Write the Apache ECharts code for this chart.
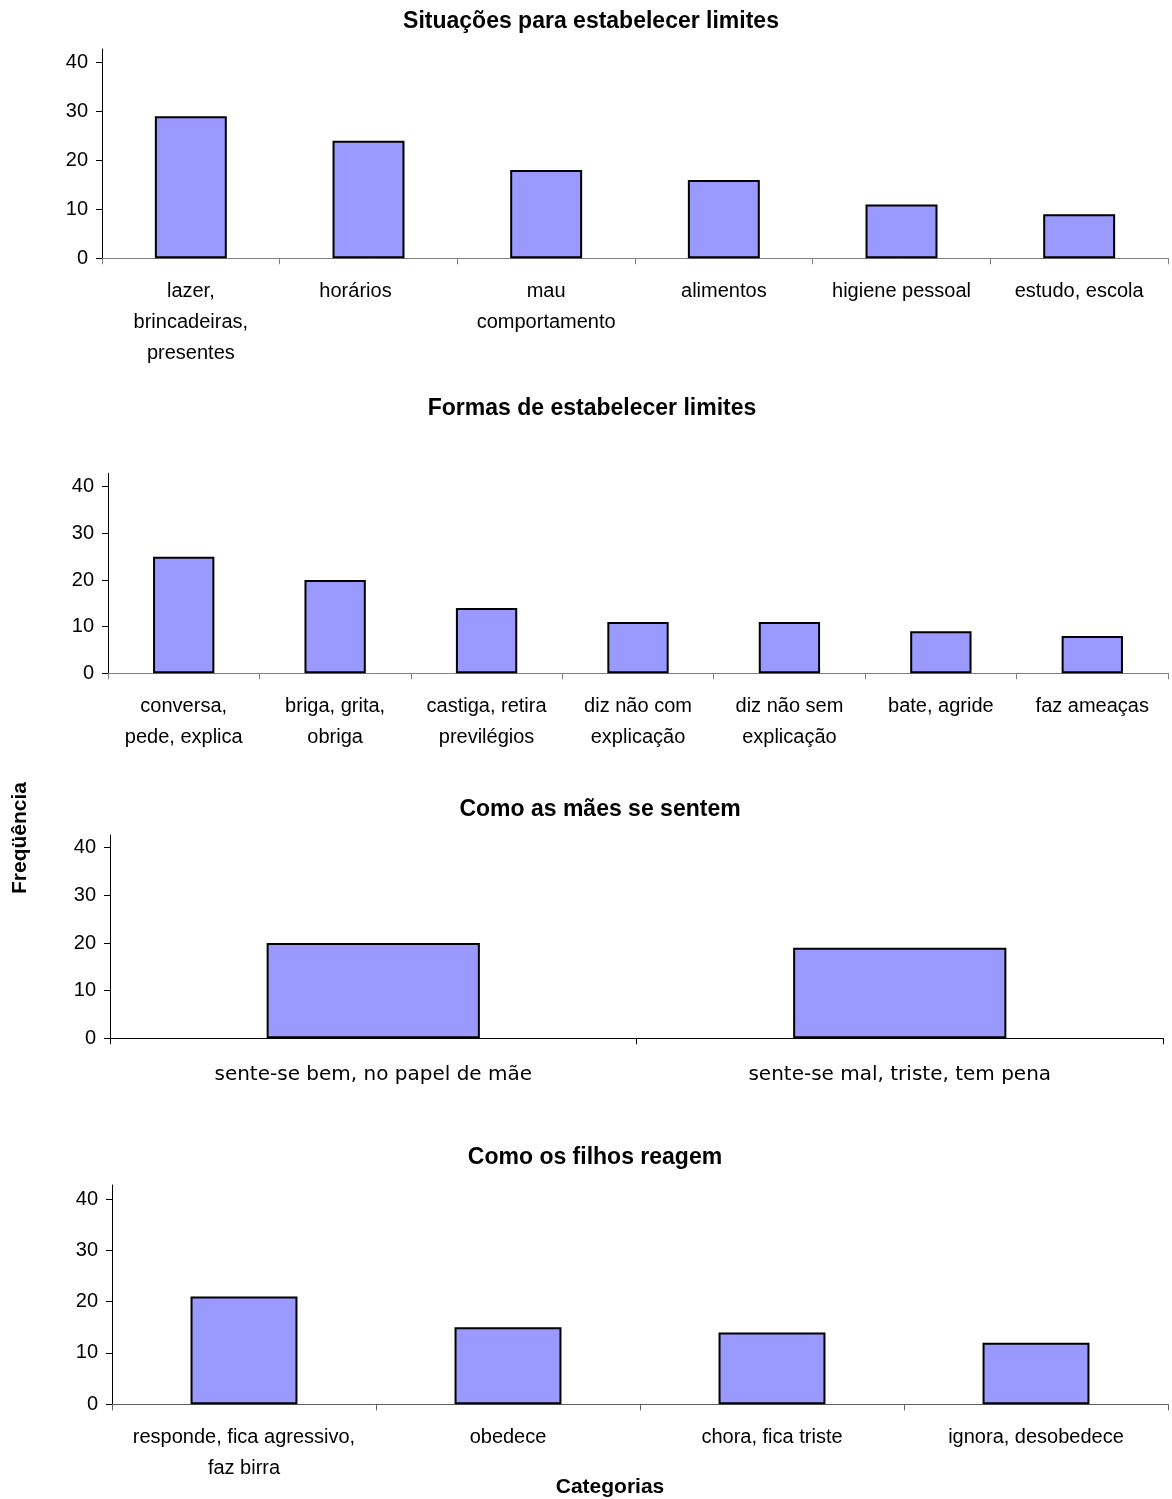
<!DOCTYPE html>
<html>
<head>
<meta charset="utf-8">
<script src="https://cdn.jsdelivr.net/npm/echarts@6/dist/echarts.min.js"></script>
<style>
html,body{margin:0;padding:0;background:#fff;}
#c{width:1172px;height:1499px;}
</style>
</head>
<body>
<div id="c"></div>
<script>
// ---- data ----
const titles = [
  'Situações para estabelecer limites',
  'Formas de estabelecer limites',
  'Como as mães se sentem',
  'Como os filhos reagem'
];
const cats1 = ['lazer,\nbrincadeiras,\npresentes', 'horários', 'mau\ncomportamento', 'alimentos', 'higiene pessoal', 'estudo, escola'];
const vals1 = [29, 24, 18, 16, 11, 9];
const cats2 = ['conversa,\npede, explica', 'briga, grita,\nobriga', 'castiga, retira\nprevilégios', 'diz não com\nexplicação', 'diz não sem\nexplicação', 'bate, agride', 'faz ameaças'];
const vals2 = [25, 20, 14, 11, 11, 9, 8];
const cats3 = ['sente-se bem, no papel de mãe', 'sente-se mal, triste, tem pena'];
const vals3 = [20, 19];
const cats4 = ['responde, fica agressivo,\nfaz birra', 'obedece', 'chora, fica triste', 'ignora, desobedece'];
const vals4 = [21, 15, 14, 12];
const yTicks = [0, 10, 20, 30, 40];
const yAxisName = 'Freqüência';
const xAxisName = 'Categorias';

// ---- layout ----
const FONT = 'Liberation Sans, Arial, sans-serif';
const panels = [
  {cats: cats1, vals: vals1, grid: {left: 102, right: 4, top: 49, height: 209.3}, max: 42.71, titleX: 591, titleY: 10, labelMargin: 18, labelFont: FONT, xColor: '#808080'},
  {cats: cats2, vals: vals2, grid: {left: 108, right: 4, top: 473.3, height: 200}, max: 42.87, titleX: 592, titleY: 397, labelMargin: 18, labelFont: FONT, xColor: '#808080'},
  {cats: cats3, vals: vals3, grid: {left: 110, right: 9, top: 835, height: 203.3}, max: 42.66, titleX: 600, titleY: 798, labelMargin: 21, labelFont: 'DejaVu Sans, sans-serif', xColor: '#000'},
  {cats: cats4, vals: vals4, grid: {left: 112, right: 4, top: 1185, height: 219.3}, max: 42.73, titleX: 595, titleY: 1146, labelMargin: 18, labelFont: FONT, xColor: '#606060'}
];
// label in panel 1 drawn slightly left of its category centre in the original
const shiftedLabel = 'horários';

const option = {
  backgroundColor: '#fff',
  animation: false,
  title: panels.map((p, i) => ({
    text: titles[i],
    left: p.titleX,
    top: p.titleY,
    textAlign: 'center',
    padding: 0,
    textStyle: {fontFamily: FONT, fontSize: 23, fontWeight: 'bold', color: '#000'}
  })),
  grid: panels.map(p => Object.assign({outerBoundsMode: 'none', containLabel: false}, p.grid)),
  xAxis: panels.map((p, i) => ({
    type: 'category',
    gridIndex: i,
    data: p.cats,
    boundaryGap: true,
    axisLine: {show: true, lineStyle: {color: p.xColor, width: 1}},
    axisTick: {show: true, length: 6, lineStyle: {color: p.xColor}},
    axisLabel: {
      interval: 0, color: '#000', fontFamily: p.labelFont, fontSize: 20, lineHeight: 31, margin: p.labelMargin,
      formatter: v => v === shiftedLabel ? '{s|' + v + '}' : v,
      rich: {s: {fontFamily: p.labelFont, fontSize: 20, lineHeight: 31, color: '#000', padding: [0, 26, 0, 0]}}
    }
  })),
  yAxis: panels.map((p, i) => ({
    type: 'value',
    gridIndex: i,
    min: 0,
    max: p.max,
    interval: 10,
    splitLine: {show: false},
    axisLine: {show: true, lineStyle: {color: '#000', width: 1}},
    axisTick: {show: true, length: 6, customValues: yTicks, lineStyle: {color: '#000'}},
    axisLabel: {customValues: yTicks, color: '#000', fontFamily: FONT, fontSize: 20, margin: 14}
  })),
  graphic: [{
    type: 'text',
    x: 20, y: 838,
    rotation: Math.PI / 2,
    style: {text: yAxisName, font: 'bold 21px ' + FONT, fill: '#000', align: 'center', verticalAlign: 'middle'}
  }, {
    type: 'text',
    x: 610, y: 1487,
    style: {text: xAxisName, font: 'bold 21px ' + FONT, fill: '#000', align: 'center', verticalAlign: 'middle'}
  }],
  series: panels.map((p, i) => ({
    type: 'bar',
    xAxisIndex: i,
    yAxisIndex: i,
    data: p.vals,
    barWidth: '40.5%',
    itemStyle: {color: '#9999FF', borderColor: '#000', borderWidth: 2}
  }))
};

const chart = echarts.init(document.getElementById('c'), null, {renderer: 'canvas'});
chart.setOption(option);
</script>
</body>
</html>
